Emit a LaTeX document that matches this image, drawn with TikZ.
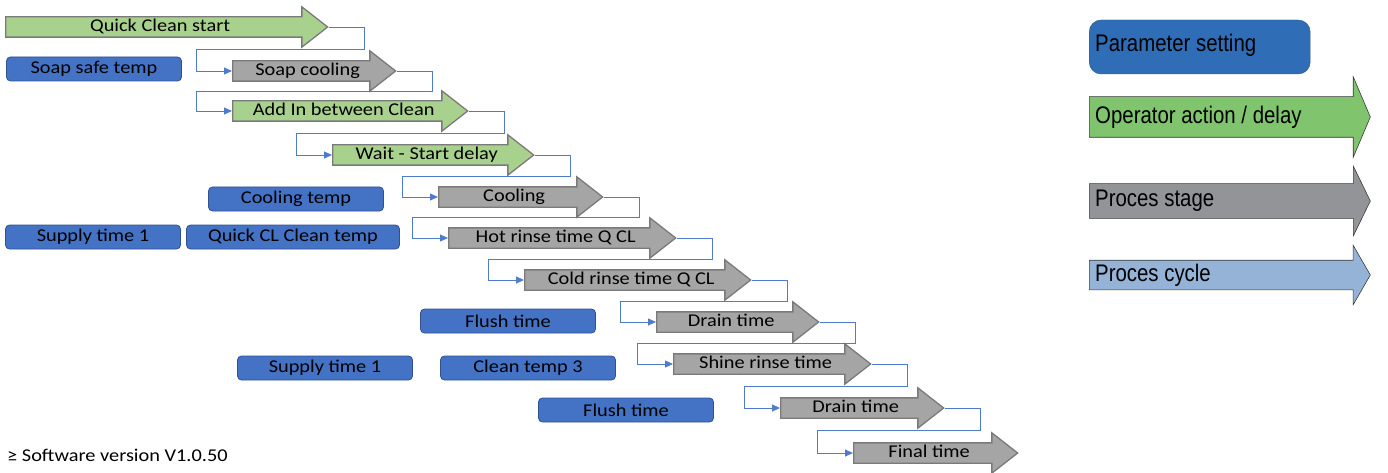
\documentclass[tikz,border=0pt]{standalone}
\usepackage{fontspec}
\setmainfont{Carlito}[FakeStretch=1.13]
\newfontfamily\legendfont{Liberation Sans}[FakeStretch=0.85]
\usetikzlibrary{shapes.arrows,arrows.meta,calc}

\definecolor{actfill}{HTML}{A9D18E}
\definecolor{procfill}{HTML}{A5A5A5}
\definecolor{stageline}{HTML}{7A7A7A}
\definecolor{parfill}{HTML}{4472C4}
\definecolor{parline}{HTML}{2F528F}
\definecolor{flowline}{HTML}{4F7BCB}
\definecolor{legpar}{HTML}{2F6EB6}
\definecolor{legact}{HTML}{80C46E}
\definecolor{legproc}{HTML}{929497}
\definecolor{legcycle}{HTML}{95B3D7}
\definecolor{legline}{HTML}{3A3A3A}

\newcommand\stagefont{\fontsize{18}{20}\selectfont}
\newcommand\legfont{\legendfont\fontsize{24}{28}\selectfont}

\begin{document}
\begin{tikzpicture}
				[x=1pt, y=-1pt,
				stage/.style = {single arrow, draw=stageline, line width=1.3pt,
				anchor=tail, minimum height=#1, text height=10pt, text depth=1pt,
				inner ysep=4pt, single arrow head extend=10pt,
				single arrow tip angle=76, font=\stagefont},
				action/.style = {stage=#1, fill=actfill},
				process/.style = {stage=#1, fill=procfill},
				param/.style = {draw=parline, fill=parfill, line width=0.8pt,
				rounded corners=4pt, minimum width=175pt, minimum height=24pt,
				inner sep=0pt, font=\stagefont},
				flow/.style = {draw=flowline, line width=0.8pt,
				-{Triangle[length=8pt, width=7pt]}},
				legarrow/.style n args = {3}{single arrow, draw=legline,
				line width=0.6pt, anchor=tail, minimum height=281pt,
				text height=0pt, text depth=0pt, inner xsep=0pt, inner ysep=#1,
				single arrow head extend=#2, single arrow tip angle=#3},
				legtext/.style = {anchor=west, inner xsep=6pt, font=\legfont}]
				\useasboundingbox (0, 0) rectangle (1388, 473);
				% stages of the quick clean program
				\node[action=322] (start) at (5, 27) {Quick Clean start};
				\node[process=163] (soapcool) at (232, 71) {Soap cooling};
				\node[action=235] (addin) at (232, 111) {Add In between Clean};
				\node[action=201] (wait) at (332, 155) {Wait - Start delay};
				\node[process=164] (cooling) at (438, 197) {Cooling};
				\node[process=227] (hotrinse) at (448, 238) {Hot rinse time Q CL};
				\node[process=226] (coldrinse) at (524, 280) {Cold rinse time Q CL};
				\node[process=162] (drain) at (656, 322) {Drain time};
				\node[process=197] (shine) at (673, 364) {Shine rinse time};
				\node[process=163] (drainb) at (780, 408) {Drain time};
				\node[process=164] (final) at (853, 453) {Final time};
				% settings
				\node[param] (soapsafe) at (94, 69) {Soap safe temp};
				\node[param] (cooltemp) at (296, 199) {Cooling temp};
				\node[param] (supply) at (93, 237) {Supply time 1};
				\node[param, minimum width=213pt] (qcltemp) at (293, 237) {Quick CL Clean temp};
				\node[param] (flush) at (508, 321) {Flush time};
				\node[param] (supplyb) at (325, 368) {Supply time 1};
				\node[param] (cleantemp) at (528, 368) {Clean temp 3};
				\node[param] (flushb) at (626, 410) {Flush time};
				\node[anchor=west, inner sep=0pt, font=\stagefont] (version) at (7, 455) {≥ Software version V1.0.50};
				% steps from one stage to the next
				\foreach \a/\b in {start/soapcool, soapcool/addin, addin/wait,
						wait/cooling, cooling/hotrinse, hotrinse/coldrinse,
						coldrinse/drain, drain/shine, shine/drainb, drainb/final}{
					\coordinate (turn) at ($(\b.tail)+(-36,0)$);
					\coordinate (mid) at ($(\a.tip)!.5!(\b.tail)$);
					\draw[flow] (\a.tip) -- ++(36,0) |- (mid -| turn) -- (turn) -- (\b.tail);
				}
				% legend
				\node[draw=parline, fill=legpar, rounded corners=12pt,
					minimum height=54pt, minimum width=221pt, anchor=west,
					label={[legtext, yshift=1.5pt]west:Parameter setting}] (legparam) at (1089, 47) {};
				\node[legarrow={20pt}{20pt}{134}, fill=legact,
					label={[legtext]west:Operator action / delay}] (legaction) at (1089, 117) {};
				\node[legarrow={17pt}{17.5pt}{128}, fill=legproc,
					label={[legtext]west:Proces stage}] (legstage) at (1089, 201) {};
				\node[legarrow={14.5pt}{15pt}{120}, fill=legcycle,
					label={[legtext]west:Proces cycle}] (legcycle) at (1089, 275) {};
\end{tikzpicture}
\end{document}
